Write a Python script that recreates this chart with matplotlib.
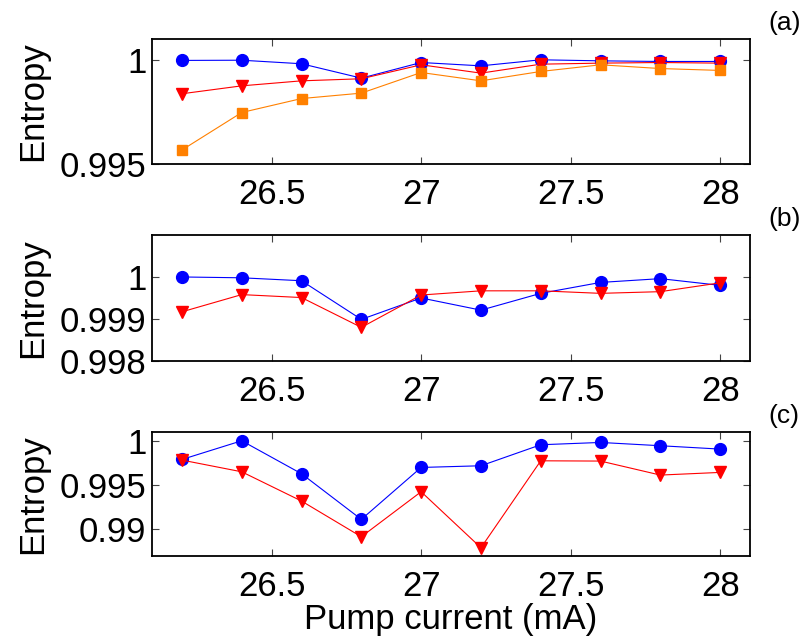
import matplotlib
matplotlib.use('Agg')
import matplotlib.pyplot as plt

plt.rcParams['font.family'] = ['Liberation Sans', 'DejaVu Sans']

# pump current (mA)
current = [26.2, 26.4, 26.6, 26.8, 27.0, 27.2, 27.4, 27.6, 27.8, 28.0]

# panel (a)
a_blue = [0.99997, 0.99998, 0.99981, 0.99912, 0.99987, 0.99971, 1.00000, 0.99995, 0.99992, 0.99992]
a_red = [0.99837, 0.99875, 0.99899, 0.99909, 0.99976, 0.99936, 0.99979, 0.99984, 0.99987, 0.99984]
a_orange = [0.99567, 0.99747, 0.99814, 0.99840, 0.99939, 0.99899, 0.99944, 0.99976, 0.99958, 0.99949]

# panel (b)
b_blue = [1.00000, 0.99998, 0.99991, 0.99899, 0.99950, 0.99921, 0.99961, 0.99987, 0.99996, 0.99980]
b_red = [0.99917, 0.99958, 0.99951, 0.99880, 0.99957, 0.99967, 0.99967, 0.99961, 0.99965, 0.99986]

# panel (c)
c_blue = [0.99789, 1.00000, 0.99628, 0.99113, 0.99699, 0.99718, 0.99955, 0.99981, 0.99944, 0.99906]
c_red = [0.99782, 0.99650, 0.99320, 0.98917, 0.99425, 0.98793, 0.99774, 0.99771, 0.99613, 0.99643]

xticks = [26.5, 27, 27.5, 28]
xticklabels = ['26.5', '27', '27.5', '28']
a_yticks = [0.995, 1.0]
a_yticklabels = ['0.995', '1']
b_yticks = [0.998, 0.999, 1.0]
b_yticklabels = ['0.998', '0.999', '1']
c_yticks = [0.99, 0.995, 1.0]
c_yticklabels = ['0.99', '0.995', '1']

fig = plt.figure(figsize=(8.06, 6.43), dpi=100)

# axes boxes [left, bottom, width, height]
ax_a = fig.add_axes([0.1886, 0.745, 0.742, 0.1944])
ax_b = fig.add_axes([0.1886, 0.4386, 0.742, 0.196])
ax_c = fig.add_axes([0.1886, 0.1353, 0.742, 0.193])

blue = '#0000ff'
red = '#ff0000'
orange = '#ff8000'

ax_a.plot(current, a_blue, '-o', color=blue, lw=0.8, ms=8.5)
ax_a.plot(current, a_red, '-v', color=red, lw=0.8, ms=9)
ax_a.plot(current, a_orange, '-s', color=orange, lw=0.8, ms=6.5)

ax_b.plot(current, b_blue, '-o', color=blue, lw=0.8, ms=8.5)
ax_b.plot(current, b_red, '-v', color=red, lw=0.8, ms=9)

ax_c.plot(current, c_blue, '-o', color=blue, lw=0.8, ms=8.5)
ax_c.plot(current, c_red, '-v', color=red, lw=0.8, ms=9)

ax_a.set_ylim(0.995, 1.001)
ax_a.set_yticks(a_yticks)
ax_a.set_yticklabels(a_yticklabels)
ax_b.set_ylim(0.998, 1.001)
ax_b.set_yticks(b_yticks)
ax_b.set_yticklabels(b_yticklabels)
ax_c.set_ylim(0.987, 1.001)
ax_c.set_yticks(c_yticks)
ax_c.set_yticklabels(c_yticklabels)

for ax, tag in zip([ax_a, ax_b, ax_c], ['(a)', '(b)', '(c)']):
    ax.set_xlim(26.1, 28.1)
    ax.set_xticks(xticks)
    ax.set_xticklabels(xticklabels)
    ax.tick_params(direction='in', top=True, right=True, length=5, width=0.8,
                   labelsize=25, color='#444444')
    ax.tick_params(axis='x', pad=10)
    ax.tick_params(axis='y', pad=4)
    for s in ax.spines.values():
        s.set_linewidth(1.3)
    ax.set_ylabel('Entropy', fontsize=25)
    ax.yaxis.set_label_coords(-0.172, 0.5)
    # panel tag sits to the upper right of each box
    ax.text(1.057, 1.13, tag, transform=ax.transAxes, fontsize=19,
            ha='center', va='center')

ax_c.set_xlabel('Pump current (mA)', fontsize=25, labelpad=0)

plt.savefig('out.png', dpi=100)
plt.close()
